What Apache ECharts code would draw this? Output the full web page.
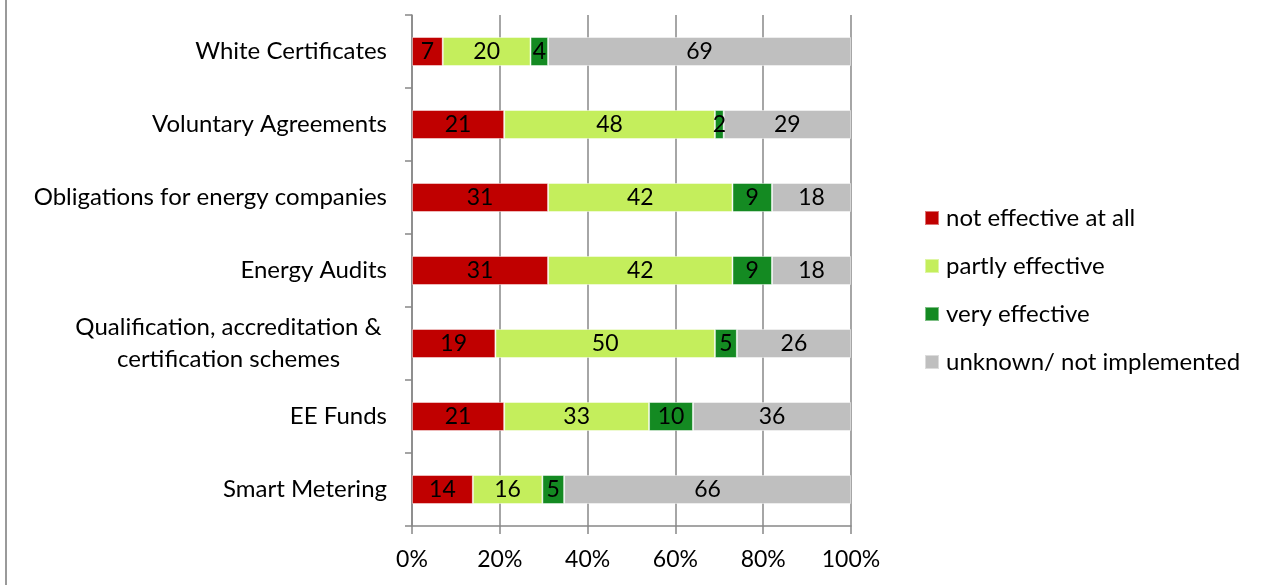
<!DOCTYPE html>
<html>
<head>
<meta charset="utf-8">
<script src="https://cdn.jsdelivr.net/npm/echarts@6/dist/echarts.min.js"></script>
<style>
html,body{margin:0;padding:0;background:#fff;}
#chart{width:1267px;height:585px;}
</style>
</head>
<body>
<div id="chart"></div>
<script>
var categories = ["White Certificates","Voluntary Agreements","Obligations for energy companies","Energy Audits","Qualification, accreditation &\ncertification schemes","EE Funds","Smart Metering"];
var seriesNames = ["not effective at all","partly effective","very effective","unknown/ not implemented"];
var notEffective = [7,21,31,31,19,21,14];
var partlyEffective = [20,48,42,42,50,33,16];
var veryEffective = [4,2,9,9,5,10,5];
var unknown = [69,29,18,18,26,36,66];
var tickLabels = ["0%","20%","40%","60%","80%","100%"];
var colors = ["#C00000","#C4EE5C","#148A22","#BFBFBF"];

var raw = [notEffective, partlyEffective, veryEffective, unknown];
var totals = categories.map(function(c,i){ return raw.reduce(function(s,a){return s+a[i];},0); });

var FONT = "Lato";
var TXT = 24, NUM = 23;
var LINE = '#888888';
var chart = echarts.init(document.getElementById('chart'), null, {renderer:'canvas'});
var series = raw.map(function(arr, k){
  return {
    name: seriesNames[k],
    type: 'bar',
    stack: 'total',
    barWidth: 29,
    itemStyle: {color: colors[k], borderColor: 'rgba(255,255,255,0.45)', borderWidth: 1},
    label: {
      show: true, position: 'inside', color: '#000', fontFamily: FONT, fontSize: NUM,
      formatter: function(p){ return raw[k][p.dataIndex]; }
    },
    data: arr.map(function(v,i){ return v / totals[i] * 100; })
  };
});

chart.setOption({
  animation: false,
  color: colors,
  textStyle: {fontFamily: FONT},
  grid: {left: 412, right: 416, top: 15, bottom: 59, containLabel: false},
  legend: {
    orient: 'vertical', left: 924, top: 206, padding: 0,
    itemWidth: 14, itemHeight: 14, itemGap: 24, icon: 'rect',
    textStyle: {fontFamily: FONT, fontSize: TXT, color: '#000', lineHeight: 24, padding: [0,0,0,2]},
    data: seriesNames
  },
  xAxis: {
    type: 'value', min: 0, max: 100, interval: 20,
    axisLine: {show: true, lineStyle: {color: LINE, width: 1.5}},
    axisTick: {show: true, length: 8, lineStyle: {color: LINE, width: 1.5}},
    splitLine: {show: true, lineStyle: {color: LINE, width: 1.5}},
    axisLabel: {
      margin: 22, color: '#000', fontFamily: FONT, fontSize: NUM,
      formatter: function(v){ return tickLabels[Math.round(v/20)]; }
    }
  },
  yAxis: {
    type: 'category', inverse: true, data: categories,
    axisLine: {show: true, lineStyle: {color: LINE, width: 1.5}},
    axisTick: {show: true, length: 7, lineStyle: {color: LINE, width: 1.5}},
    axisLabel: {
      margin: 25, color: '#000', fontFamily: FONT, fontSize: TXT, lineHeight: 32,
      formatter: function(v){
        return v.indexOf('\n') >= 0 ? '{c|' + v + '}' : v;
      },
      rich: {c: {width: 317, align: 'center', fontFamily: FONT, fontSize: TXT, lineHeight: 32, color: '#000'}}
    }
  },
  graphic: [{
    type: 'line', shape: {x1: 6, y1: 0, x2: 6, y2: 585},
    style: {stroke: '#9a9a9a', lineWidth: 2}, silent: true
  }],
  series: series
});
</script>
</body>
</html>
